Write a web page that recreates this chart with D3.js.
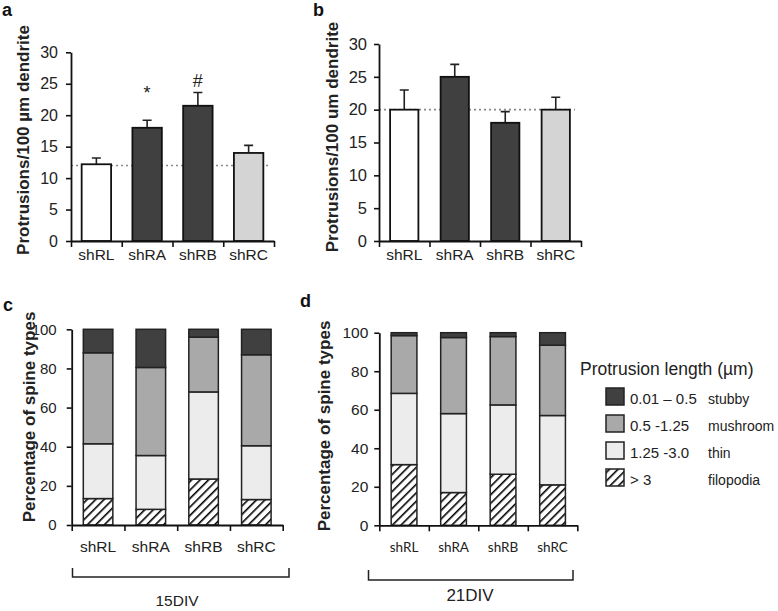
<!DOCTYPE html>
<html><head><meta charset="utf-8">
<script src="https://cdn.jsdelivr.net/npm/d3@7"></script>
<style>body{margin:0;background:#fff} svg{display:block}</style>
</head><body>
<svg id="chart" width="778" height="611"></svg>
<script>
// ---------------- DATA ----------------
const categories = ["shRL", "shRA", "shRB", "shRC"];
const yTicksAB = [0, 5, 10, 15, 20, 25, 30];
const yTicksCD = [0, 20, 40, 60, 80, 100];

const densityA = [12.2, 18.0, 21.5, 14.0];
const errorA   = [1.0, 1.2, 2.1, 1.2];
const markerA  = ["", "*", "#", ""];
const controlA = 12;

const densityB = [20.0, 25.0, 18.0, 20.0];
const errorB   = [3.0, 1.9, 1.7, 1.9];
const controlB = 20;

const barFills = ["#ffffff", "#404040", "#404040", "#d4d4d4"];

const spineTypes   = ["filopodia", "thin", "mushroom", "stubby"];
const spineRanges  = ["> 3", "1.25 -3.0", "0.5 -1.25", "0.01 \u2013 0.5"];
const spineColors  = ["url(#hatch)", "#ececec", "#a9a9a9", "#404040"];

// percentages per type (filopodia, thin, mushroom, stubby)
const filopodia15 = [13.5, 8.0, 23.5, 13.0];
const thin15      = [28.0, 27.5, 44.5, 27.5];
const mushroom15  = [46.5, 45.0, 28.0, 46.5];
const stubby15    = [12.0, 19.5, 4.0, 13.0];

const filopodia21 = [31.5, 17.0, 26.5, 21.0];
const thin21      = [37.0, 41.0, 36.0, 36.0];
const mushroom21  = [30.0, 39.5, 35.5, 36.5];
const stubby21    = [1.5, 2.5, 2.0, 6.5];

// ---------------- DRAW ----------------
const svg = d3.select("#chart");
const defs = svg.append("defs");
const pat = defs.append("pattern").attr("id", "hatch")
  .attr("patternUnits", "userSpaceOnUse").attr("width", 6).attr("height", 6)
  .attr("patternTransform", "rotate(45)");
pat.append("rect").attr("width", 6).attr("height", 6).attr("fill", "#fff");
pat.append("line").attr("x1", 0).attr("y1", 0).attr("x2", 0).attr("y2", 6)
  .attr("stroke", "#000").attr("stroke-width", 3.2);

const AX = "#111";
const SANS = "Liberation Sans, Arial, sans-serif";

function panel(o) {
  const g = svg.append("g");
  const y = d3.scaleLinear().domain(o.ydomain).range([o.y0, o.y1]);
  const xb = d3.scaleBand().domain(categories).range([o.x0, o.x1]).paddingInner(o.pad).paddingOuter(o.pad / 2);
  const xl = d3.scaleLinear().domain([0, categories.length]).range([o.x0, o.x1]);
  const ya = g.append("g").attr("transform", `translate(${o.x0},0)`)
    .call(d3.axisLeft(y).tickValues(o.yticks).tickSize(5).tickSizeOuter(0).tickPadding(o.tickPad));
  ya.selectAll("text").attr("font-family", SANS).attr("font-size", o.tickSize).attr("fill", "#222");
  const xa = g.append("g").attr("transform", `translate(0,${o.y0})`)
    .call(d3.axisBottom(xl).tickValues(d3.range(categories.length + 1)).tickFormat("").tickSize(6).tickSizeOuter(0));
  [ya, xa].forEach(a => { a.select(".domain").attr("stroke", AX).attr("stroke-width", 1.8);
    a.selectAll(".tick line").attr("stroke", AX).attr("stroke-width", 1.6); });
  const xlab = g.append("g").attr("transform", `translate(0,${o.y0})`)
    .call(d3.axisBottom(xb).tickSize(0).tickPadding(o.labPad));
  xlab.select(".domain").remove();
  xlab.selectAll("text").attr("font-family", o.labFont).attr("font-size", o.labSize).attr("fill", "#222");
  g.append("text").attr("transform", `translate(${o.titleX},${o.titleY}) rotate(-90)`)
    .attr("text-anchor", "middle").attr("font-family", SANS)
    .attr("font-weight", "bold").attr("font-size", 17).attr("fill", "#222").text(o.title);
  g.append("text").attr("x", o.letterX).attr("y", o.letterY)
    .attr("font-family", SANS).attr("font-weight", "bold")
    .attr("font-size", 18).attr("fill", "#111").text(o.letter);
  return { g, y, xb, xl, ya, xa };
}

function densityPanel(p, values, errors, control, markers) {
  const { g, y, xb } = p;
  g.insert("line", ":first-child").attr("x1", p.xl.range()[0]).attr("x2", p.xl.range()[1] - 6)
    .attr("y1", y(control)).attr("y2", y(control))
    .attr("stroke", "#888").attr("stroke-width", 1.6).attr("stroke-dasharray", "2,3");
  const bw = xb.bandwidth();
  g.selectAll(".err").data(categories).enter().append("path")
    .attr("d", (c, i) => {
      const cx = xb(c) + bw / 2, t = y(values[i] + errors[i]);
      return `M${cx},${y(values[i])}V${t}M${cx - 4.5},${t}H${cx + 4.5}`;
    }).attr("stroke", "#222").attr("stroke-width", 1.6).attr("fill", "none");
  g.selectAll(".bar").data(categories).enter().append("rect")
    .attr("x", c => xb(c)).attr("width", bw)
    .attr("y", (c, i) => y(values[i])).attr("height", (c, i) => y(0) - y(values[i]))
    .attr("fill", (c, i) => barFills[i]).attr("stroke", "#111").attr("stroke-width", 1.8);
  if (markers) {
    g.selectAll(".mk").data(categories).enter().append("text")
      .attr("x", c => xb(c) + bw / 2)
      .attr("y", (c, i) => markers[i] === "*" ? y(values[i] + errors[i]) - 21 : y(values[i] + errors[i]) - 6)
      .attr("text-anchor", "middle").attr("font-family", SANS)
      .attr("font-size", 18).attr("fill", "#222").text((c, i) => markers[i]);
  }
  p.ya.raise(); p.xa.raise();
}

function stackPanel(p, series) {
  const { g, y, xb } = p;
  const rows = categories.map((c, i) => {
    const r = { cat: c };
    spineTypes.forEach((t, k) => r[t] = series[k][i]);
    return r;
  });
  const stack = d3.stack().keys(spineTypes)(rows);
  stack.forEach((layer, k) => {
    g.selectAll(".s" + k).data(layer).enter().append("rect")
      .attr("x", d => xb(d.data.cat)).attr("width", xb.bandwidth())
      .attr("y", d => y(d[1])).attr("height", d => y(d[0]) - y(d[1]))
      .attr("fill", spineColors[k]).attr("stroke", "#222").attr("stroke-width", 1.5);
  });
  p.ya.raise(); p.xa.raise();
}

function bracket(x0, x1, yb, yt, label, lx, ly, size) {
  svg.append("path").attr("d", `M${x0},${yt}V${yb}H${x1}V${yt}`)
    .attr("fill", "none").attr("stroke", "#222").attr("stroke-width", 1.5);
  svg.append("text").attr("x", lx).attr("y", ly).attr("text-anchor", "middle")
    .attr("font-family", SANS).attr("font-size", size).attr("fill", "#222").text(label);
}

const pa = panel({ x0: 71, x1: 274, y0: 241, y1: 52.3, ydomain: [0, 30], yticks: yTicksAB, pad: 0.42,
  tickSize: 16, tickPad: 8,
  labFont: SANS, labSize: 15.5, labPad: 8,
  title: "Protrusions/100 \u00b5m dendrite", titleX: 29, titleY: 140, letter: "a", letterX: 2, letterY: 16 });
densityPanel(pa, densityA, errorA, controlA, markerA);

const pb = panel({ x0: 379, x1: 581, y0: 241, y1: 44, ydomain: [0, 30], yticks: yTicksAB, pad: 0.44,
  tickSize: 16.5, tickPad: 7,
  labFont: SANS, labSize: 15.5, labPad: 8,
  title: "Protrusions/100 um dendrite", titleX: 338, titleY: 137, letter: "b", letterX: 313, letterY: 16 });
densityPanel(pb, densityB, errorB, controlB, null);

const pc = panel({ x0: 71.7, x1: 282.7, y0: 525, y1: 329.3, ydomain: [0, 100], yticks: yTicksCD, pad: 0.44,
  tickSize: 15, tickPad: 10,
  labFont: SANS, labSize: 15.5, labPad: 16,
  title: "Percentage of spine types", titleX: 35, titleY: 417, letter: "c", letterX: 3, letterY: 311 });
stackPanel(pc, [filopodia15, thin15, mushroom15, stubby15]);

const pd = panel({ x0: 379.3, x1: 577.3, y0: 525.3, y1: 332.7, ydomain: [0, 100], yticks: yTicksCD, pad: 0.48,
  tickSize: 15.5, tickPad: 6,
  labFont: "Lato, Carlito, sans-serif", labSize: 13.5, labPad: 17,
  title: "Percentage of spine types", titleX: 330, titleY: 426, letter: "d", letterX: 300, letterY: 307 });
stackPanel(pd, [filopodia21, thin21, mushroom21, stubby21]);

bracket(72.5, 289, 577, 568, "15DIV", 177, 606, 15.5);
bracket(368.5, 573, 580, 570, "21DIV", 470, 601, 17);

// legend
const lg = svg.append("g");
lg.append("text").attr("x", 580).attr("y", 375).attr("font-family", SANS)
  .attr("font-size", 17.5).attr("fill", "#222").text("Protrusion length (\u00b5m)");
const order = [3, 2, 1, 0];
order.forEach((k, r) => {
  const yy = 388 + r * 27;
  lg.append("rect").attr("x", 606).attr("y", yy).attr("width", 18).attr("height", 17)
    .attr("fill", spineColors[k]).attr("stroke", "#222").attr("stroke-width", 1.5);
  lg.append("text").attr("x", 630).attr("y", yy + 16).attr("font-family", SANS)
    .attr("font-size", 15).attr("fill", "#222").text(spineRanges[k]);
  lg.append("text").attr("x", 708).attr("y", yy + 16).attr("font-family", SANS)
    .attr("font-size", 14).attr("fill", "#222").text(spineTypes[k]);
});
</script>
</body></html>
